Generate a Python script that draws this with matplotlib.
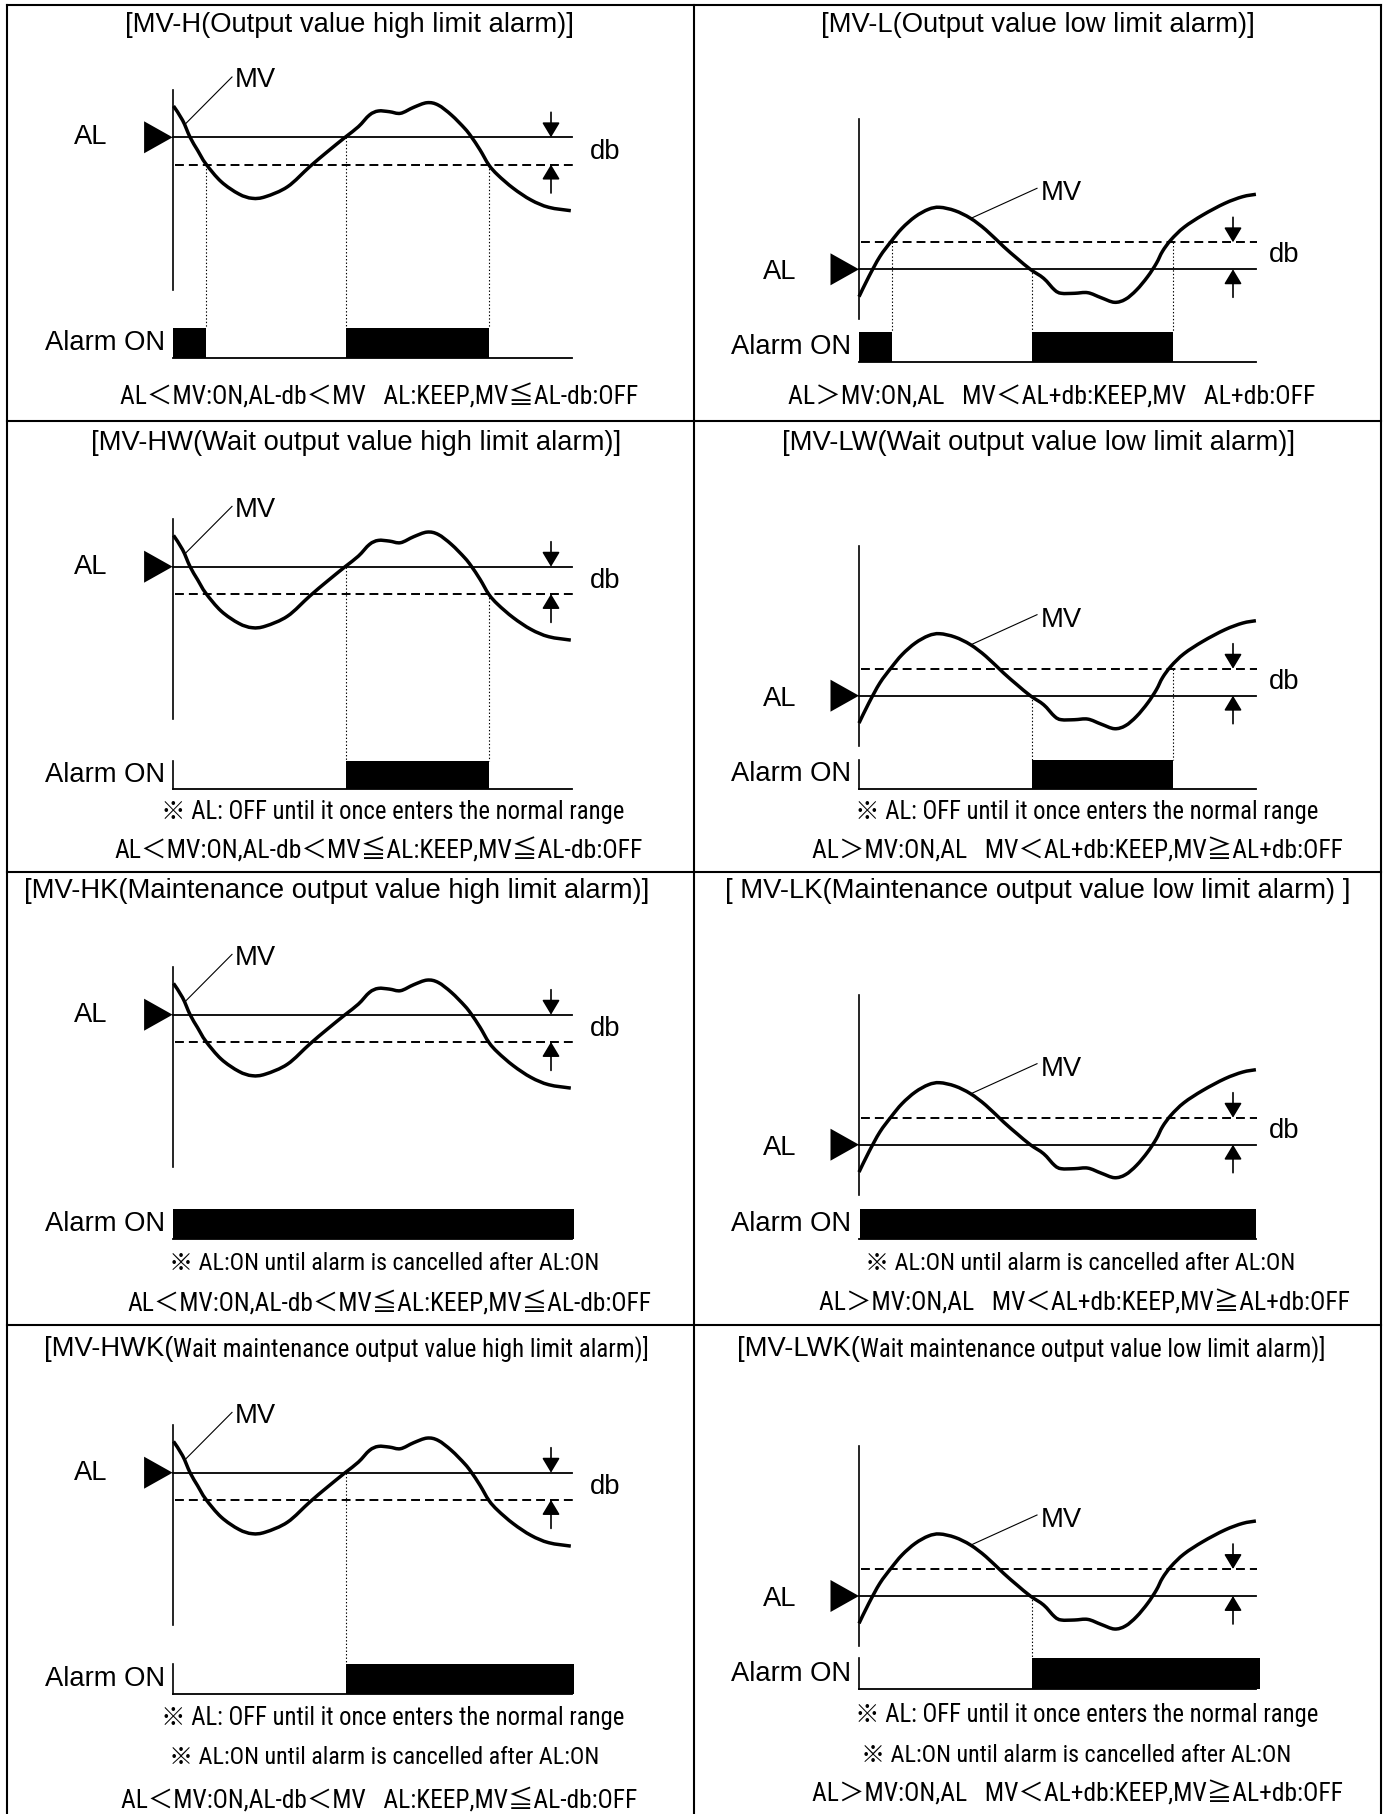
import numpy as np
import matplotlib
matplotlib.use("Agg")
import matplotlib.pyplot as plt
from matplotlib.path import Path
from matplotlib.patches import PathPatch, Polygon
from matplotlib import font_manager

plt.rcParams["lines.scale_dashes"] = False

# ---- data (pixel units, relative to each panel's AL origin) ----
HIGH_X = [0.9, 10.0, 17.5, 25.0, 33.2, 48.6, 66.3, 79.6, 92.9, 115.0, 137.1, 154.8, 172.5,
          185.8, 196.9, 205.7, 216.8, 227.9, 241.1, 254.4, 265.5, 278.8, 292.0, 298.6,
          307.5, 316.3, 325.2, 340.7, 358.4, 376.1, 398.2]
HIGH_Y = [-31.3, -17.0, 0.0, 13.0, 26.5, 44.4, 56.7, 61.0, 59.4, 49.4, 29.4, 14.4, 0.0,
          -10.6, -22.3, -26.3, -25.6, -24.0, -30.0, -34.6, -32.3, -22.3, -9.0, -0.7,
          12.7, 27.7, 37.7, 51.0, 62.7, 70.0, 73.4]
LOW_X = [0.0, 9.8, 20.8, 31.9, 43.0, 56.2, 69.5, 80.6, 96.0, 111.5, 127.0, 144.7, 158.0,
         171.3, 184.6, 195.6, 202.3, 215.5, 228.8, 242.1, 255.4, 266.4, 277.5, 288.6,
         297.4, 303.5, 312.0, 325.0, 343.8, 365.9, 383.6, 396.9]
LOW_Y = [27.4, 7.4, -12.6, -27.6, -41.0, -52.6, -60.0, -62.0, -58.6, -51.0, -39.3, -22.6,
         -11.0, 0.0, 9.0, 20.7, 24.0, 24.0, 23.4, 28.4, 33.0, 30.0, 20.7, 7.4, -6.0, -18.0,
         -29.5, -42.0, -54.3, -66.0, -72.6, -75.0]

LEFT_X0, RIGHT_X0 = 172.6, 859.0
LEFT_AL_Y = [137.3, 566.7, 1014.7, 1472.7]
RIGHT_AL_Y = [269.3, 695.7, 1144.7, 1596.0]
LEFT_BOX = [(190.7, 220.7), (194.0, 222.3), (194.6, 224.6), (191.6, 221.3)]
RIGHT_BOX = [(63.0, 93.0), (64.0, 93.3), (64.0, 94.0), (62.3, 93.0)]
LEFT_ON = [[(0, 33.4), (173.9, 316.4)], [(173.9, 316.4)], [(0, 401.0)], [(173.9, 401.4)]]
RIGHT_ON = [[(0, 33.0), (173.5, 314.0)], [(173.5, 314.0)], [(1, 397.0)], [(173.5, 401.4)]]
LEFT_DOTS = [[(33.4, 27.3), (173.9, 0), (316.4, 27.3)], [(173.9, 0), (316.4, 27.3)], [], [(173.9, 0)]]
RIGHT_DOTS = [[(33.0, -27.0), (173.5, 0), (314.0, -27.0)], [(173.5, 0), (314.0, -27.0)], [], [(173.5, 0)]]

TITLES_L = ["[MV-H(Output value high limit alarm)]", "[MV-HW(Wait output value high limit alarm)]",
            "[MV-HK(Maintenance output value high limit alarm)]"]
TITLES_R = ["[MV-L(Output value low limit alarm)]", "[MV-LW(Wait output value low limit alarm)]",
            "[ MV-LK(Maintenance output value low limit alarm) ]"]
TITLE_X_L = [350, 356, 337]
TITLE_X_R = [1038, 1039, 1038]
TITLE_Y = [25, 443, 891, 1349]

NOTE_OFF = "※ AL: OFF until it once enters the normal range"
NOTE_ON = "※ AL:ON until alarm is cancelled after AL:ON"
F_L1 = "AL＜MV:ON,AL-db＜MV   AL:KEEP,MV≦AL-db:OFF"
F_L2 = "AL＜MV:ON,AL-db＜MV≦AL:KEEP,MV≦AL-db:OFF"
F_R1 = "AL＞MV:ON,AL   MV＜AL+db:KEEP,MV   AL+db:OFF"
F_R2 = "AL＞MV:ON,AL   MV＜AL+db:KEEP,MV≧AL+db:OFF"
FORMULA_L = [F_L1, F_L2, F_L2, F_L1]
FORMULA_R = [F_R1, F_R2, F_R2, F_R2]
FORMULA_X_L = [379, 379, 389, 379]
FORMULA_X_R = [1052, 1077, 1084, 1077]
FORMULA_W_L = [516, 526, 523, 515]
FORMULA_W_R = [526, 529, 530, 529]
FORMULA_Y_L = [397, 851, 1303, 1800]
FORMULA_Y_R = [397, 851, 1303, 1794]
NOTES_L = [[], [(NOTE_OFF, 393, 812)], [(NOTE_ON, 384, 1264)], [(NOTE_OFF, 393, 1718), (NOTE_ON, 384, 1758)]]
NOTES_R = [[], [(NOTE_OFF, 1087, 812)], [(NOTE_ON, 1080, 1264)], [(NOTE_OFF, 1087, 1715), (NOTE_ON, 1076, 1755)]]
NOTE_W = {NOTE_OFF: 462, NOTE_ON: 430}

# pick a condensed face for the narrow texts, whichever is installed
fonts = [(f.name, f.stretch) for f in font_manager.fontManager.ttflist]
names = {n for n, _ in fonts}
CND_STRETCH = "normal"
if "Liberation Sans Narrow" in names:
    CND_FAM = "Liberation Sans Narrow"
elif "Roboto Condensed" in names:
    CND_FAM = "Roboto Condensed"
elif any(n == "Roboto" and s == "condensed" for n, s in fonts):
    CND_FAM, CND_STRETCH = "Roboto", "condensed"
elif any(n == "DejaVu Sans" and s == "condensed" for n, s in fonts):
    CND_FAM, CND_STRETCH = "DejaVu Sans", "condensed"
else:
    CND_FAM = "Liberation Sans"
REG = ["Liberation Sans", "Noto Sans CJK JP"]
CND = [CND_FAM, "Noto Sans CJK JP"]
FS = 19.7

fig = plt.figure(figsize=(13.88, 18.14), dpi=100)
ax = fig.add_axes([0, 0, 1, 1])
ax.set_xlim(0, 1388)
ax.set_ylim(1814, 0)
ax.axis("off")
renderer = fig.canvas.get_renderer()


def fit_text(x, y, s, width, ha="center"):
    t = ax.text(x, y, s, ha=ha, va="center", fontsize=18, family=CND, fontstretch=CND_STRETCH)
    w = t.get_window_extent(renderer).width
    t.set_fontsize(18 * width / w)
    return t


def smooth_path(xs, ys):
    p = np.column_stack([xs, ys])
    q = np.vstack([p[0], p, p[-1]])
    verts, codes = [p[0]], [Path.MOVETO]
    for i in range(1, len(q) - 2):
        c1 = q[i] + (q[i + 1] - q[i - 1]) / 6
        c2 = q[i + 1] - (q[i + 2] - q[i]) / 6
        verts += [c1, c2, q[i + 1]]
        codes += [Path.CURVE4] * 3
    return Path(verts, codes)


def arrow(x, y0, y1):
    ax.annotate("", xy=(x, y1), xytext=(x, y0),
                arrowprops=dict(arrowstyle="-|>,head_length=0.45,head_width=0.27",
                                mutation_scale=20, lw=1.2, color="black",
                                shrinkA=0, shrinkB=0))


def panel(x0, y0, high, box, on, dots, show_db=True):
    if high:
        cx, cy = HIGH_X, HIGH_Y
        ax_top, ax_bot, end, dash = -47.3, 152.7, 399.4, 27.3
        mv_lead, mv_txt = ((13.4, -14), (59.4, -60.3)), (62, -57)
        arr_x, down, up = 378.4, (-25, 0), (55.7, 27.3)
        db_xy = (417, 14.7)
        al_x, al_dy = -81.6, 0
    else:
        cx, cy = LOW_X, LOW_Y
        ax_top, ax_bot, end, dash = -150, 50, 397.0, -27.0
        mv_lead, mv_txt = ((112, -51), (178, -81)), (182, -76)
        arr_x, down, up = 374, (-52, -27), (28, 0)
        db_xy = (410, -14)
        al_x, al_dy = -79, 3
    # axes, AL line, dead band line
    ax.plot([x0, x0], [y0 + ax_top, y0 + ax_bot], color="black", lw=1.2)
    ax.plot([x0, x0 + end], [y0, y0], color="black", lw=1.3)
    ax.plot([x0 + 2, x0 + end + 1], [y0 + dash, y0 + dash], color="black", lw=1.4,
            linestyle=(0, (6.4, 3.6)))
    ax.add_patch(Polygon([[x0 - 28.5, y0 - 16], [x0, y0], [x0 - 28.5, y0 + 16]],
                         closed=True, color="black", lw=0))
    ax.text(x0 + al_x, y0 + al_dy, "AL", ha="center", va="center", fontsize=FS, family=REG)
    # MV curve
    path = smooth_path(np.array(cx) + x0, np.array(cy) + y0)
    ax.add_patch(PathPatch(path, fill=False, lw=2.5, edgecolor="black", capstyle="butt"))
    (a, b), (c, d) = mv_lead
    ax.plot([x0 + a, x0 + c], [y0 + b, y0 + d], color="black", lw=0.8)
    ax.text(x0 + mv_txt[0], y0 + mv_txt[1], "MV", ha="left", va="center", fontsize=FS, family=REG)
    # db arrows
    arrow(x0 + arr_x, y0 + down[0], y0 + down[1])
    arrow(x0 + arr_x, y0 + up[0], y0 + up[1])
    if show_db:
        ax.text(x0 + db_xy[0], y0 + db_xy[1], "db", ha="left", va="center", fontsize=FS, family=REG)
    # alarm bar
    top, bot = box
    ax.broken_barh([(x0 + s, e - s) for s, e in on], (y0 + top, bot - top), color="black", lw=0)
    ax.plot([x0, x0 + end], [y0 + bot, y0 + bot], color="black", lw=1.3)
    if on[0][0] > 2:
        ax.plot([x0, x0], [y0 + top, y0 + bot], color="black", lw=1.2)
    for dx, dy in dots:
        ax.plot([x0 + dx, x0 + dx], [y0 + dy, y0 + top], color="black", lw=0.8,
                linestyle=(0, (1, 1.5)))
    ax.text(x0 - 7.8, y0 + (top + bot) / 2, "Alarm ON", ha="right", va="center",
            fontsize=FS, family=REG)


# frame
for x in (7, 694, 1381):
    ax.plot([x, x], [5, 1814], color="black", lw=1.5, solid_capstyle="projecting")
for y in (5, 421, 872, 1325):
    ax.plot([7, 1381], [y, y], color="black", lw=1.5, solid_capstyle="projecting")

for r in range(4):
    panel(LEFT_X0, LEFT_AL_Y[r], True, LEFT_BOX[r], LEFT_ON[r], LEFT_DOTS[r])
    panel(RIGHT_X0, RIGHT_AL_Y[r], False, RIGHT_BOX[r], RIGHT_ON[r], RIGHT_DOTS[r], show_db=r < 3)
    if r < 3:
        ax.text(TITLE_X_L[r], TITLE_Y[r], TITLES_L[r], ha="center", va="center", fontsize=FS, family=REG)
        ax.text(TITLE_X_R[r], TITLE_Y[r], TITLES_R[r], ha="center", va="center", fontsize=FS, family=REG)
    fit_text(FORMULA_X_L[r], FORMULA_Y_L[r], FORMULA_L[r], FORMULA_W_L[r])
    fit_text(FORMULA_X_R[r], FORMULA_Y_R[r], FORMULA_R[r], FORMULA_W_R[r])
    for s, x, y in NOTES_L[r] + NOTES_R[r]:
        fit_text(x, y, s, NOTE_W[s])

# last row titles: code part regular, description condensed
ax.text(173, TITLE_Y[3], "[MV-HWK(", ha="right", va="center", fontsize=FS, family=REG)
fit_text(173, TITLE_Y[3], "Wait maintenance output value high limit alarm)]", 475, ha="left")
ax.text(860, TITLE_Y[3], "[MV-LWK(", ha="right", va="center", fontsize=FS, family=REG)
fit_text(860, TITLE_Y[3], "Wait maintenance output value low limit alarm)]", 467, ha="left")

fig.savefig("out.png", dpi=100, facecolor="white")
